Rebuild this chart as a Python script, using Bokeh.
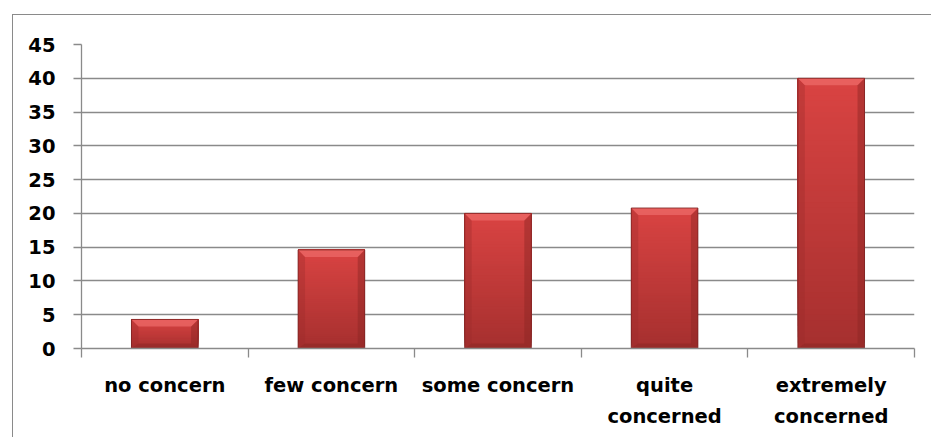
from bokeh.plotting import figure
from bokeh.models import Range1d, FixedTicker
from bokeh.embed import file_html
from bokeh.resources import INLINE

# Survey responses: level of concern
categories = ["no concern", "few concern", "some concern", "quite\nconcerned", "extremely\nconcerned"]
values = [4.3, 14.6, 20.0, 20.8, 40.0]
y_ticks = [0, 5, 10, 15, 20, 25, 30, 35, 40, 45]

GRID = "#8a8a8a"
FONT = "DejaVu Sans"

p = figure(width=931, height=437, output_backend="svg", toolbar_location=None,
           x_range=Range1d(0, len(categories)), y_range=Range1d(0, 45),
           min_border_left=81, min_border_right=17, min_border_top=44, min_border_bottom=89)
p.background_fill_color = "white"
p.border_fill_color = "white"
p.outline_line_color = None

# chart-area border, running off the right and bottom edges of the page
p.stylesheets = [
    ":host { position: relative; overflow: hidden; }"
    ":host::after { content: ''; position: absolute; left: 12px; top: 14px;"
    " width: 2000px; height: 2000px; border: 1.5px solid #8a8a8a;"
    " pointer-events: none; box-sizing: border-box; }"
]

centers = [i + 0.5 for i in range(len(categories))]
bw = 0.4

# vertical gradient body: stacked layers, each reaching the bar top,
# going from the dark base colour to the lighter top colour
bot_rgb = (166, 48, 47)
top_rgb = (218, 68, 67)
N = 48
xs, tops, bots, cols = [], [], [], []
for c, v in zip(centers, values):
    for k in range(N):
        f = (k + 0.5) / N
        r = int(bot_rgb[0] + (top_rgb[0] - bot_rgb[0]) * f)
        g = int(bot_rgb[1] + (top_rgb[1] - bot_rgb[1]) * f)
        b = int(bot_rgb[2] + (top_rgb[2] - bot_rgb[2]) * f)
        xs.append(c)
        bots.append(v * k / N)
        tops.append(v)
        cols.append("#%02x%02x%02x" % (r, g, b))
p.vbar(x=xs, top=tops, bottom=bots, width=bw, fill_color=cols, line_color=None)

# bevel: darker side strips, light top facet, dark bottom facet
ins = 0.042
hb = 1.05
for c, v in zip(centers, values):
    l, r = c - bw / 2, c + bw / 2
    p.patch([l, l + ins, l + ins, l], [0, hb * 0.7, v - hb, v],
            fill_color="#9c2c2b", fill_alpha=0.35, line_color=None)
    p.patch([r, r - ins, r - ins, r], [0, hb * 0.7, v - hb, v],
            fill_color="#8a2524", fill_alpha=0.45, line_color=None)
    p.patch([l, r, r - ins, l + ins], [v, v, v - hb, v - hb],
            fill_color="#ec6a68", fill_alpha=0.75, line_color=None)
    p.patch([l, r, r - ins, l + ins], [0, 0, hb * 0.7, hb * 0.7],
            fill_color="#7d2120", fill_alpha=0.35, line_color=None)
p.vbar(x=centers, top=values, width=bw, fill_alpha=0, line_color="#7a2322",
       line_alpha=0.8, line_width=1)

# grid
p.xgrid.grid_line_color = None
p.ygrid.ticker = FixedTicker(ticks=y_ticks)
p.ygrid.grid_line_color = GRID
p.ygrid.grid_line_width = 1.3

# y axis
ya = p.yaxis[0]
ya.ticker = FixedTicker(ticks=y_ticks, minor_ticks=[])
ya.axis_line_color = GRID
ya.axis_line_width = 1.3
ya.major_tick_line_color = GRID
ya.major_tick_line_width = 1.3
ya.major_tick_out = 8
ya.major_tick_in = 0
ya.minor_tick_line_color = None
ya.major_label_standoff = 18
ya.major_label_text_font = FONT
ya.major_label_text_font_style = "bold"
ya.major_label_text_font_size = "19.5px"
ya.major_label_text_color = "black"

# x axis: labels at bar centres, tick marks between categories
xa = p.xaxis[0]
xa.ticker = FixedTicker(ticks=centers, minor_ticks=list(range(len(categories) + 1)))
xa.major_label_overrides = {c: lab for c, lab in zip(centers, categories)}
xa.axis_line_color = GRID
xa.axis_line_width = 1.3
xa.major_tick_line_color = None
xa.major_tick_out = 0
xa.major_tick_in = 0
xa.minor_tick_line_color = GRID
xa.minor_tick_line_width = 1.3
xa.minor_tick_out = 9
xa.minor_tick_in = 0
xa.major_label_standoff = 16
xa.major_label_text_font = FONT
xa.major_label_text_font_style = "bold"
xa.major_label_text_font_size = "19.5px"
xa.major_label_text_color = "black"
xa.major_label_text_line_height = 1.37

open("out.html", "w").write(file_html(p, INLINE))
